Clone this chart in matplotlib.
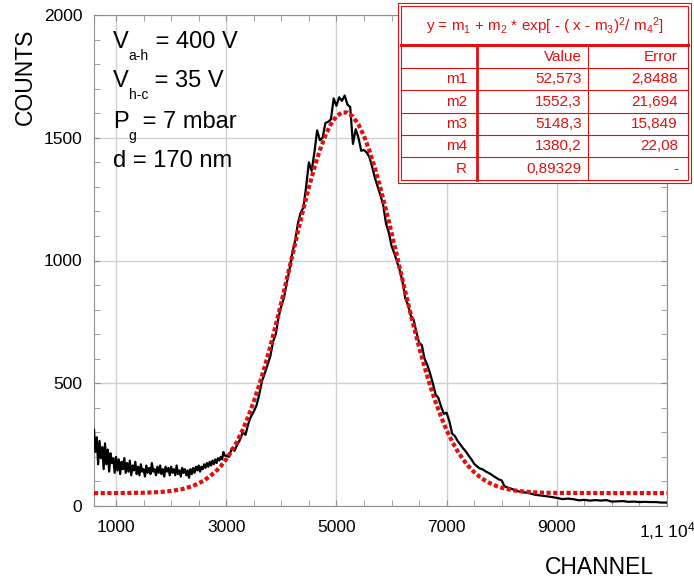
import matplotlib.pyplot as plt
import numpy as np
from matplotlib.patches import Rectangle
from matplotlib.ticker import MultipleLocator

plt.rcParams['font.family'] = ['Liberation Sans', 'DejaVu Sans']
plt.rcParams['mathtext.fontset'] = 'custom'
plt.rcParams['mathtext.rm'] = 'Liberation Sans'
plt.rcParams['mathtext.default'] = 'regular'

##### DATA #####
# channel grid: step 25 below 3000, step 50 up to 8350, then step 100
channel = np.r_[np.arange(600, 3000, 25), np.arange(3000, 8400, 50), np.arange(8400, 11001, 100)]
counts = [
    310, 220, 280, 170, 265, 195, 240, 150,     # 600-775
    255, 170, 230, 140, 215, 175, 195, 135,     # 800-975
    200, 145, 190, 130, 180, 150, 195, 135,     # 1000-1175
    175, 140, 185, 125, 165, 145, 180, 130,     # 1200-1375
    160, 125, 170, 140, 150, 120, 165, 135,     # 1400-1575
    155, 130, 175, 140, 150, 125, 160, 135,     # 1600-1775
    165, 130, 150, 120, 160, 140, 155, 125,     # 1800-1975
    160, 135, 150, 125, 165, 130, 145, 120,     # 2000-2175
    155, 135, 150, 125, 145, 115, 150, 130,     # 2200-2375
    155, 135, 160, 145, 165, 140, 160, 150,     # 2400-2575
    170, 155, 175, 160, 180, 165, 185, 170,     # 2600-2775
    190, 175, 195, 185, 200, 190, 220, 205,     # 2800-2975
    205, 200, 235, 225, 250, 270, 300, 290, 335, 365,            # 3000-3450
    385, 410, 455, 510, 540, 575, 610, 670, 700, 770,            # 3500-3950
    815, 850, 910, 965, 1030, 1080, 1150, 1195, 1215, 1300,      # 4000-4450
    1400, 1365, 1440, 1530, 1490, 1500, 1560, 1565, 1575, 1660,  # 4500-4950
    1630, 1665, 1650, 1672, 1635, 1625, 1475, 1535, 1500, 1447,  # 5000-5450
    1450, 1440, 1420, 1380, 1335, 1300, 1265, 1225, 1150, 1115,  # 5500-5950
    1060, 1030, 995, 960, 915, 845, 820, 775, 760, 710,          # 6000-6450
    665, 655, 600, 575, 540, 500, 455, 440, 405, 375,            # 6500-6950
    380, 345, 295, 285, 265, 250, 235, 222, 205, 190,            # 7000-7450
    172, 162, 153, 150, 142, 136, 130, 122, 115, 108,            # 7500-7950
    104, 80, 76, 72, 68, 63, 60, 57,                             # 8000-8350
    56, 52, 46, 43, 40, 37, 33, 28, 30, 28,                      # 8400-9300
    23, 25, 22, 24, 22, 24, 18, 19, 20, 17,                      # 9400-10300
    18, 16, 17, 16, 16, 14, 14,                                  # 10400-11000
]

# gaussian fit curve (red dots)
fit_channel = [600, 1000, 1500, 1800, 2000, 2200, 2400, 2600, 2800, 2900,
               3000, 3100, 3200, 3300, 3400, 3500, 3600, 3700, 3800, 3900,
               4000, 4100, 4200, 4300, 4400, 4500, 4600, 4700, 4800, 4900,
               5000, 5100, 5200, 5300, 5400, 5500, 5600, 5700, 5800, 5900,
               6000, 6100, 6200, 6300, 6400, 6500, 6600, 6700, 6800, 6900,
               7000, 7100, 7200, 7300, 7400, 7500, 7600, 7700, 7800, 7900,
               8000, 8200, 8400, 8600, 8800, 9000, 10000, 11000]
fit_counts = [52.6, 52.6, 54.0, 56.9, 61.1, 68.8, 82.0, 103.9, 138.4, 161.9,
              190.2, 224.2, 264.2, 310.9, 364.6, 425.5, 493.6, 568.8, 650.4, 737.7,
              829.5, 924.4, 1020.7, 1116.6, 1209.6, 1297.6, 1378.3, 1449.5, 1509.1, 1555.5,
              1587.1, 1603.0, 1602.7, 1586.3, 1554.1, 1507.3, 1447.2, 1375.7, 1294.7, 1206.5,
              1113.3, 1017.5, 921.2, 826.3, 734.6, 647.5, 566.1, 491.2, 423.3, 362.7,
              309.2, 262.7, 222.9, 189.2, 161.0, 137.7, 118.8, 103.5, 91.3, 81.8,
              74.3, 64.3, 58.6, 55.6, 54.0, 53.3, 52.6, 52.6]

params = ['m1', 'm2', 'm3', 'm4', 'R']
values = ['52,573', '1552,3', '5148,3', '1380,2', '0,89329']
errors = ['2,8488', '21,694', '15,849', '22,08', '-']

xticks = [1000, 3000, 5000, 7000, 9000, 11000]
xticklabels = ['1000', '3000', '5000', '7000', '9000', '1,1 10$^4$']

RED = '#e01010'
W, H = 694, 585

fig = plt.figure(figsize=(W / 100, H / 100), dpi=100)
ax = fig.add_axes([94 / W, 1 - 506 / H, (667 - 94) / W, (506 - 15) / H])

ax.plot(channel, counts, color='black', lw=1.6, zorder=3)
ax.plot(fit_channel, fit_counts, color=RED, lw=3, linestyle=(0, (1, 0.6)),
        dash_capstyle='butt', zorder=4)

ax.set_xlim(600, 11000)
ax.set_ylim(0, 2000)
ax.set_xticks(xticks, xticklabels)
ax.xaxis.set_minor_locator(MultipleLocator(500))
ax.yaxis.set_major_locator(MultipleLocator(500))
ax.yaxis.set_minor_locator(MultipleLocator(100))
ax.grid(True, which='major', color='#d0d0d0', lw=1)
ax.tick_params(which='both', direction='in', top=True, right=True,
               color='#909090', labelsize=12.5, length=4)
ax.tick_params(axis='x', pad=10)
ax.tick_params(axis='y', pad=8.5)
for s in ax.spines.values():
    s.set_color('#909090')

# overlay in pixel coordinates for labels and the fit table
ov = fig.add_axes([0, 0, 1, 1], zorder=10)
ov.set_xlim(0, W)
ov.set_ylim(H, 0)
ov.axis('off')

ov.text(25, 77, 'COUNTS', rotation=90, ha='center', va='center', fontsize=16.5)
ov.text(599, 567, 'CHANNEL', ha='center', va='center', fontsize=16.5)


def label_sub(x, y, main, sub, rest):
    t = ov.text(x, y, main, fontsize=17, va='baseline')
    s = ov.annotate(sub, xy=(1, y + 12), xycoords=(t, 'data'), fontsize=10, va='baseline')
    ov.annotate(rest, xy=(1, y), xycoords=(s, 'data'), fontsize=17, va='baseline')


label_sub(113, 48, 'V', 'a-h', ' = 400 V')
label_sub(113, 87, 'V', 'h-c', ' = 35 V')
label_sub(113, 128, 'P', 'g', ' = 7 mbar')
ov.text(113, 167, 'd = 170 nm', fontsize=17, va='baseline')

# table
ov.add_patch(Rectangle((398, 3), 293, 180, facecolor='white', edgecolor=RED, lw=0.8))
ov.add_patch(Rectangle((401, 6), 287, 174, facecolor='none', edgecolor=RED, lw=0.8))
ov.plot([401, 688], [45, 45], color=RED, lw=2.2)
ov.plot([477, 477], [45, 180], color=RED, lw=2)
ov.plot([588, 588], [45, 180], color=RED, lw=0.8)
for yl in [68, 90, 113, 135, 157]:
    ov.plot([401, 688], [yl, yl], color=RED, lw=0.8)

ov.text(545, 26, 'y = m$_1$ + m$_2$ * exp[ - ( x - m$_3$)$^2$/ m$_4$$^2$]',
        ha='center', va='center', fontsize=11, color=RED)
ov.text(582, 57, 'Value', ha='right', va='center', fontsize=11, color=RED)
ov.text(678, 57, 'Error', ha='right', va='center', fontsize=11, color=RED)
for i, (p, v, e) in enumerate(zip(params, values, errors)):
    yc = 79 + i * 22.5
    ov.text(467, yc, p, ha='right', va='center', fontsize=11, color=RED)
    ov.text(582, yc, v, ha='right', va='center', fontsize=11, color=RED)
    ov.text(678, yc, e, ha='right', va='center', fontsize=11, color=RED)

fig.savefig('out.png', dpi=100)
